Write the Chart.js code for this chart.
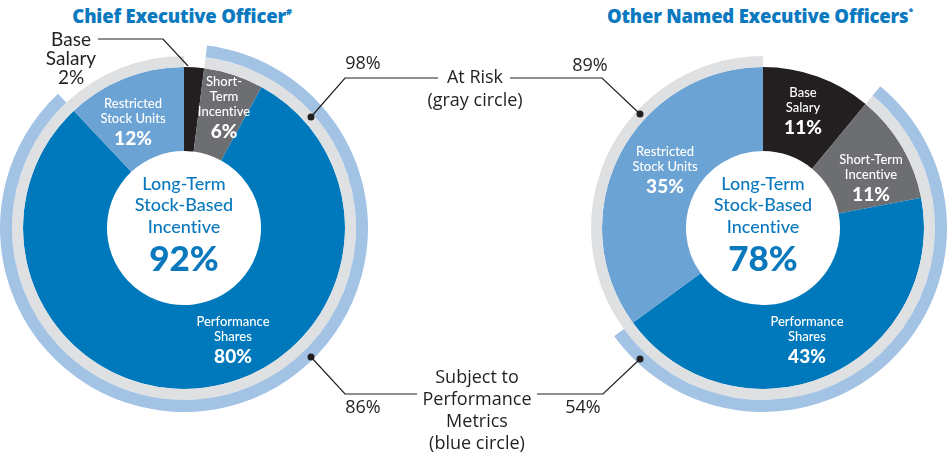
<!DOCTYPE html>
<html>
<head>
<meta charset="utf-8">
<script src="https://cdn.jsdelivr.net/npm/chart.js@4.4.1/dist/chart.umd.min.js"></script>
<style>
  body { margin: 0; width: 948px; height: 456px; position: relative; background: #fff; overflow: hidden;
         font-family: Lato, "Noto Sans", sans-serif; color: #231f20; font-variant-ligatures: none; }
  .chartBox { position: absolute; top: 44px; width: 368px; height: 368px; }
  #ceoBox { left: 0; }
  #neoBox { left: 579px; }
  .title { position: absolute; top: 3px; font-family: "Open Sans", sans-serif; font-size: 18.5px; font-weight: 800;
           color: #0a79c0; text-align: center; white-space: nowrap; letter-spacing: -0.2px; }
  .title sup { font-size: 9px; vertical-align: 8px; }
  .note { position: absolute; text-align: center; font-family: "Open Sans", sans-serif; font-size: 18px; white-space: nowrap; }
  svg { position: absolute; left: 0; top: 0; }
</style>
</head>
<body>
<div class="title" style="left:0;width:364px;">Chief Executive Officer<sup>#</sup></div>
<div class="title" style="left:580px;width:360px;">Other Named Executive Officers<sup>*</sup></div>

<div class="chartBox" id="ceoBox"><canvas id="ceoChart"></canvas></div>
<div class="chartBox" id="neoBox"><canvas id="neoChart"></canvas></div>

<svg width="948" height="456">
  <g stroke="#231f20" stroke-width="1.2" fill="none">
    <polyline points="98,39 163,39 188,66"/>
    <polyline points="311,117 345,78 438,78"/>
    <polyline points="510,78 602,78 640,114"/>
    <polyline points="311,357 345,394 417,394"/>
    <polyline points="537,394 603,394 640,359"/>
  </g>
  <g fill="#231f20">
    <circle cx="311" cy="117" r="3.5"/>
    <circle cx="640" cy="114" r="3.5"/>
    <circle cx="311" cy="357" r="3.5"/>
    <circle cx="640" cy="359" r="3.5"/>
  </g>
</svg>

<div class="note" style="left:21px;width:100px;top:29px;line-height:19px;font-family:Lato,sans-serif;font-size:19px;">Base<br>Salary<br>2%</div>
<div class="note" style="left:313px;width:100px;top:51px;line-height:23px;">98%</div>
<div class="note" style="left:540px;width:100px;top:53px;line-height:23px;">89%</div>
<div class="note" style="left:405px;width:140px;top:65px;line-height:23px;">At Risk<br>(gray circle)</div>
<div class="note" style="left:313px;width:100px;top:395px;line-height:23px;">86%</div>
<div class="note" style="left:533px;width:100px;top:395px;line-height:23px;">54%</div>
<div class="note" style="left:407px;width:140px;top:365px;line-height:22px;">Subject to<br>Performance<br>Metrics<br>(blue circle)</div>

<script>
// pay mix, percent of total
var categories = ['Base Salary', 'Short-Term Incentive', 'Performance Shares', 'Restricted Stock Units'];
var ceoValues = [2, 6, 80, 12];
var neoValues = [11, 11, 43, 35];
var ceoAtRisk = 98;
var neoAtRisk = 89;
var ceoPerformance = 86;
var neoPerformance = 54;
var ceoLongTerm = 92;
var neoLongTerm = 78;

var colors = ['#231f20', '#6d6e71', '#0079bc', '#6ba3d4'];
var ringGray = '#dfe0e2';
var ringBlue = '#a3c3e5';
var textBlue = '#0a78bd';

// label placement per segment (offset from centre), null = drawn outside
var ceoLabelPos = [
  null,
  { dx: 40, dy: -146, lines: ['Short-', 'Term', 'Incent\u200Cive'] },
  { dx: 49, dy: 94, lines: ['Performance', 'Shares'] },
  { dx: -51, dy: -124, lines: ['Restricted', 'Stock Units'] }
];
var neoLabelPos = [
  { dx: 40, dy: -135, lines: ['Base', 'Salary'] },
  { dx: 108, dy: -68, lines: ['Short-Term', 'Incent\u200Cive'] },
  { dx: 44, dy: 94, lines: ['Performance', 'Shares'] },
  { dx: -98, dy: -76, lines: ['Restricted', 'Stock Units'] }
];

var labelPlugin = {
  id: 'segLabels',
  afterDraw: function (chart) {
    var opts = chart.options.plugins.segLabels;
    var meta = chart.getDatasetMeta(2);
    var arc = meta.data[0];
    var cx = arc.x, cy = arc.y;
    var ctx = chart.ctx;
    var vals = chart.data.datasets[2].data;
    ctx.save();
    ctx.textAlign = 'center';
    ctx.textBaseline = 'middle';
    ctx.fillStyle = '#fff';
    opts.pos.forEach(function (p, i) {
      if (!p) return;
      var y = cy + p.dy;
      ctx.font = '500 13px Lato';
      p.lines.forEach(function (ln, k) {
        ctx.fillText(ln, cx + p.dx, y + k * 15);
      });
      ctx.font = '900 19px Lato';
      ctx.fillText(vals[i] + '%', cx + p.dx, y + (p.lines.length - 1) * 15 + 20);
    });
    // centre
    ctx.fillStyle = textBlue;
    ctx.font = '500 18px Lato';
    ctx.fillText('Long-Term', cx, cy - 44);
    ctx.fillText('Stock-Based', cx, cy - 23);
    ctx.fillText('Incent\u200Cive', cx, cy - 1);
    ctx.font = '900 35px Lato';
    ctx.fillText(opts.longTerm + '%', cx, cy + 32);
    ctx.restore();
  }
};

function makeChart(id, values, atRisk, perf, longTerm, pos) {
  var base = values[0];
  new Chart(document.getElementById(id), {
    type: 'doughnut',
    data: {
      labels: categories,
      datasets: [
        { data: [base, perf, 100 - base - perf], backgroundColor: ['rgba(0,0,0,0)', ringBlue, 'rgba(0,0,0,0)'], weight: 12 },
        { data: [100 - atRisk, atRisk], backgroundColor: ['rgba(0,0,0,0)', ringGray], weight: 11 },
        { data: values, backgroundColor: colors, weight: 84 }
      ]
    },
    options: {
      responsive: true,
      maintainAspectRatio: false,
      animation: false,
      cutout: 77,
      borderWidth: 0,
      hoverOffset: 0,
      layout: { padding: 0 },
      elements: { arc: { borderWidth: 0 } },
      plugins: {
        legend: { display: false },
        tooltip: { enabled: false },
        segLabels: { pos: pos, longTerm: longTerm }
      }
    },
    plugins: [labelPlugin]
  });
}

makeChart('ceoChart', ceoValues, ceoAtRisk, ceoPerformance, ceoLongTerm, ceoLabelPos);
makeChart('neoChart', neoValues, neoAtRisk, neoPerformance, neoLongTerm, neoLabelPos);
</script>
</body>
</html>
